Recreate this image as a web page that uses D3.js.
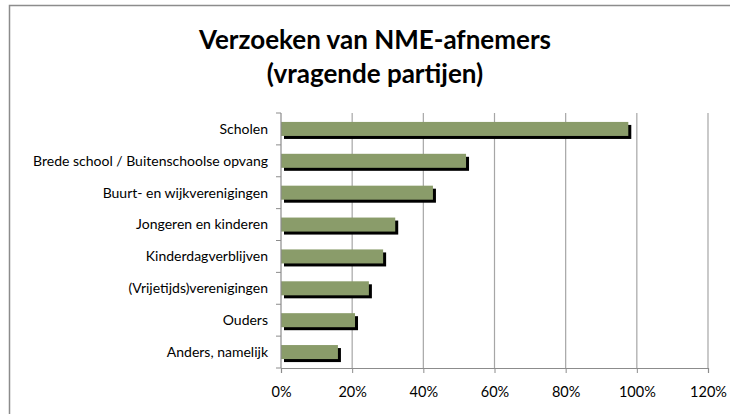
<!DOCTYPE html>
<html>
<head>
<meta charset="utf-8">
<script src="https://cdn.jsdelivr.net/npm/d3@7"></script>
<style>
  html, body { margin: 0; background: #fff; overflow: hidden; }
  svg { display: block; font-family: Lato, "Open Sans", sans-serif; }
</style>
</head>
<body>
<svg></svg>
<script>
const categories = [
  "Scholen",
  "Brede school / Buitenschoolse opvang",
  "Buurt- en wijkverenigingen",
  "Jongeren en kinderen",
  "Kinderdagverblijven",
  "(Vrijetijds)verenigingen",
  "Ouders",
  "Anders, namelijk"
];
const values = [97.6, 52, 42.7, 32.1, 28.7, 24.7, 20.8, 16];
const xTicks = [0, 20, 40, 60, 80, 100, 120];
const titleLines = ["Verzoeken van NME-afnemers", "(vragende partijen)"];

function draw() {
  const
    svgWidth = 730,
    svgHeight = 414;

  const svg = d3.select("svg")
    .attr("width", svgWidth)
    .attr("height", svgHeight);

  // chart area border (only top and left are in view)
  svg.append("rect")
    .attr("x", 9.5).attr("y", 5.5)
    .attr("width", 760).attr("height", 440)
    .attr("fill", "#fff")
    .attr("stroke", "#8c8c8c")
    .attr("stroke-width", 1.5);

  const margin = { top: 113, right: 22, bottom: 46, left: 281 };
  const innerWidth = svgWidth - margin.left - margin.right;
  const innerHeight = svgHeight - margin.top - margin.bottom;

  const data = categories.map((c, i) => ({ cat: c, val: values[i] }));

  const xScale = d3.scaleLinear()
    .domain([0, 120])
    .range([0, innerWidth]);

  const yScale = d3.scaleBand()
    .domain(categories)
    .range([0, innerHeight])
    .paddingInner(0.56)
    .paddingOuter(0.28);

  const g = svg.append("g")
    .attr("transform", `translate(${margin.left},${margin.top})`);

  // vertical gridlines
  g.selectAll(".grid").data(xTicks.slice(1))
    .enter().append("line")
      .attr("class", "grid")
      .attr("x1", d => xScale(d)).attr("x2", d => xScale(d))
      .attr("y1", 0).attr("y2", innerHeight)
      .attr("stroke", "#a6a6a6")
      .attr("stroke-width", 1.2);

  // shadows
  const shadow = 3;
  g.selectAll(".shadow").data(data)
    .enter().append("rect")
      .attr("class", "shadow")
      .attr("x", shadow)
      .attr("y", d => yScale(d.cat) + shadow)
      .attr("width", d => xScale(d.val))
      .attr("height", yScale.bandwidth())
      .attr("fill", "#000");

  g.selectAll(".bar").data(data)
    .enter().append("rect")
      .attr("class", "bar")
      .attr("x", 0)
      .attr("y", d => yScale(d.cat))
      .attr("width", d => xScale(d.val))
      .attr("height", yScale.bandwidth())
      .attr("fill", "#8a9c6a");

  // x axis
  const xAxis = d3.axisBottom(xScale)
    .tickValues(xTicks)
    .tickFormat(d => d + "%")
    .tickSize(5)
    .tickPadding(14);
  const xAxisG = g.append("g").call(xAxis)
    .attr("transform", `translate(0,${innerHeight})`);
  xAxisG.select(".domain").attr("stroke", "#8c8c8c").attr("stroke-width", 1.2);
  xAxisG.selectAll(".tick line").attr("stroke", "#8c8c8c");
  xAxisG.selectAll(".tick text")
    .attr("fill", "#000")
    .attr("font-family", "Lato, sans-serif")
    .attr("font-size", "14.5px");

  // y axis: ticks between categories
  const boundaries = d3.range(categories.length + 1)
    .map(i => i * innerHeight / categories.length);
  g.append("line")
    .attr("x1", 0).attr("x2", 0)
    .attr("y1", 0).attr("y2", innerHeight)
    .attr("stroke", "#8c8c8c").attr("stroke-width", 1.2);
  g.selectAll(".ytick").data(boundaries)
    .enter().append("line")
      .attr("class", "ytick")
      .attr("x1", -5).attr("x2", 0)
      .attr("y1", d => d).attr("y2", d => d)
      .attr("stroke", "#8c8c8c");

  g.selectAll(".ylabel").data(data)
    .enter().append("text")
      .attr("class", "ylabel")
      .attr("x", -13)
      .attr("y", d => yScale(d.cat) + yScale.bandwidth() / 2)
      .attr("dy", "0.35em")
      .attr("text-anchor", "end")
      .attr("font-size", "14px")
      .attr("fill", "#000")
      .text(d => d.cat);

  // title
  svg.append("text")
    .attr("x", 375)
    .attr("y", 49)
    .attr("text-anchor", "middle")
    .attr("font-size", "26px")
    .attr("font-weight", "bold")
    .selectAll("tspan").data(titleLines)
    .enter().append("tspan")
      .attr("x", 375)
      .attr("dy", (d, i) => i === 0 ? 0 : 34)
      .text(d => d);
}

draw();
</script>
</body>
</html>
